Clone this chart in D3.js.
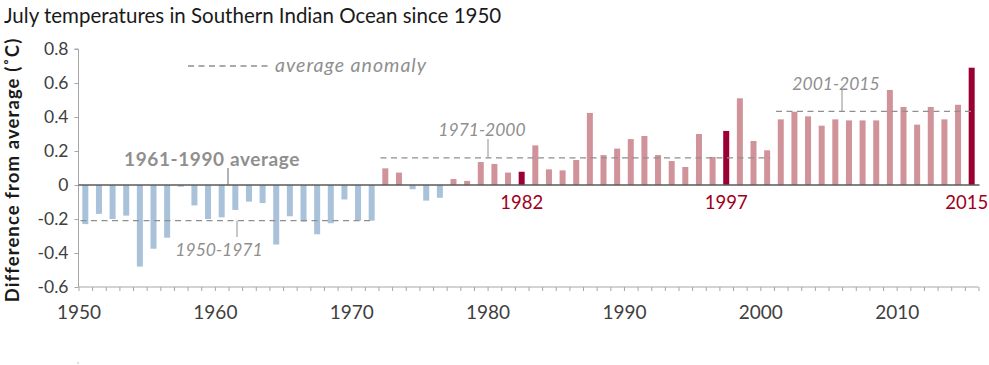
<!DOCTYPE html>
<html>
<head>
<meta charset="utf-8">
<script src="https://cdn.jsdelivr.net/npm/d3@7"></script>
<style>
  html, body { margin: 0; padding: 0; background: #fff; }
  svg { display: block; font-family: Lato, "Open Sans", sans-serif; }
</style>
</head>
<body>
<svg id="chart" width="989" height="365"></svg>
<script>
// ---- Data ----
const years = d3.range(1950, 2016);
const anomalies = [
  -0.23, -0.17, -0.20, -0.18, -0.48, -0.375, -0.31, -0.01, -0.12, -0.20,
  -0.19, -0.147, -0.098, -0.106, -0.35, -0.184, -0.215, -0.29, -0.225, -0.085,
  -0.21, -0.21, 0.098, 0.073, -0.025, -0.092, -0.075, 0.035, 0.024, 0.135,
  0.124, 0.073, 0.078, 0.233, 0.092, 0.086, 0.147, 0.424, 0.176, 0.214,
  0.27, 0.288, 0.176, 0.141, 0.106, 0.30, 0.165, 0.318, 0.51, 0.259,
  0.204, 0.386, 0.431, 0.404, 0.349, 0.386, 0.38, 0.38, 0.38, 0.559,
  0.459, 0.355, 0.459, 0.386, 0.472, 0.69
];
const highlightYears = [1982, 1997, 2015];
const yTicks = [-0.6, -0.4, -0.2, 0, 0.2, 0.4, 0.6, 0.8];
const decadeLabels = [1950, 1960, 1970, 1980, 1990, 2000, 2010];
const periodNames = ["1950-1971", "1971-2000", "2001-2015"];
const periodStart = [1950, 1972, 2001];
const periodEnd = [1972, 2001, 2016];
const periodValue = [-0.21, 0.16, 0.433];

const title = "July temperatures in Southern Indian Ocean since 1950";
const yTitle = "Difference from average (˚C)";

// ---- Layout ----
const svg = d3.select("#chart");
const mLeft = 78.5, mRight = 978.5, mTop = 49, mBottom = 287;
const x = d3.scaleLinear().domain([1950, 2016]).range([mLeft, mRight]);
const y = d3.scaleLinear().domain([-0.6, 0.8]).range([mBottom, mTop]);
const barW = 6;

const cNeg = "#a9c2da", cPos = "#d0939a", cHi = "#9b0033", cHiText = "#a0001c";
const cGray = "#8f8f8f", cAxis = "#a6a6a6";

// Title
svg.append("text").attr("x", 4).attr("y", 23)
  .attr("font-size", 20.5).attr("fill", "#1a1a1a").text(title);

// Y axis title
svg.append("text")
  .attr("transform", `translate(19,${(mTop + mBottom) / 2 + 2}) rotate(-90)`)
  .attr("text-anchor", "middle").attr("font-size", 18.5).attr("font-weight", "bold")
  .attr("letter-spacing", 1.1)
  .attr("fill", "#1a1a1a").text(yTitle);

// Y axis
const yAxis = svg.append("g").attr("transform", `translate(${mLeft},0)`)
  .call(d3.axisLeft(y).tickValues(yTicks).tickSize(4).tickPadding(6)
    .tickFormat(d => d === 0 ? "0" : d3.format(".1f")(d).replace("−", "-")));
yAxis.select(".domain").attr("stroke", cAxis).attr("d", `M-4,${mTop}H0V${mBottom}`);
yAxis.selectAll(".tick line").attr("stroke", cAxis);
yAxis.selectAll(".tick text").attr("font-size", 17.5).attr("fill", "#404040")
  .attr("font-family", "Lato, sans-serif");

// X axis (ticks at year boundaries)
const xAxis = svg.append("g").attr("transform", `translate(0,${mBottom})`)
  .call(d3.axisBottom(x).tickValues(d3.range(1950, 2017)).tickSize(4).tickFormat(""));
xAxis.select(".domain").attr("stroke", cAxis).attr("d", `M${mLeft},0H${mRight}`);
xAxis.selectAll(".tick line").attr("stroke", cAxis);

const xLab = svg.append("g").attr("transform", `translate(0,${mBottom})`)
  .call(d3.axisBottom(x).tickValues(decadeLabels).tickSize(0).tickPadding(19).tickFormat(d3.format("d")));
xLab.select(".domain").remove();
xLab.selectAll(".tick text").attr("font-size", 19).attr("fill", "#404040")
  .attr("font-family", "Lato, sans-serif");

// Bars
svg.append("g").selectAll("rect").data(years).join("rect")
  .attr("x", (d) => x(d + 0.5) - barW / 2)
  .attr("width", barW)
  .attr("y", (d, i) => y(Math.max(0, anomalies[i])))
  .attr("height", (d, i) => Math.abs(y(anomalies[i]) - y(0)))
  .attr("fill", (d, i) => highlightYears.includes(d) ? cHi : (anomalies[i] < 0 ? cNeg : cPos));

// Zero line
svg.append("line").attr("x1", mLeft).attr("x2", mRight + 1)
  .attr("y1", y(0)).attr("y2", y(0)).attr("stroke", "#5a5a5a").attr("stroke-width", 1.4);

// Period average dashed lines
const dashG = svg.append("g");
periodNames.forEach((name, i) => {
  dashG.append("line")
    .attr("x1", x(periodStart[i]) + 2).attr("x2", x(periodEnd[i]) - 4)
    .attr("y1", y(periodValue[i])).attr("y2", y(periodValue[i]))
    .attr("stroke", cGray).attr("stroke-width", 1.3).attr("stroke-dasharray", "6,4.5");
});

// Annotation leaders and labels
const ann = svg.append("g").attr("fill", cGray).attr("font-size", 17.5).attr("font-style", "italic");
ann.append("line").attr("x1", 237).attr("x2", 237).attr("y1", y(periodValue[0])).attr("y2", 237)
  .attr("stroke", cGray).attr("stroke-width", 1);
ann.append("text").attr("x", 219).attr("y", 256).attr("text-anchor", "middle").text(periodNames[0]);
ann.append("line").attr("x1", 488).attr("x2", 488).attr("y1", y(periodValue[1])).attr("y2", 139)
  .attr("stroke", cGray).attr("stroke-width", 1);
ann.append("text").attr("x", 482).attr("y", 136).attr("text-anchor", "middle").text(periodNames[1]);
ann.append("line").attr("x1", 842).attr("x2", 842).attr("y1", y(periodValue[2])).attr("y2", 90)
  .attr("stroke", cGray).attr("stroke-width", 1);
ann.append("text").attr("x", 836).attr("y", 90).attr("text-anchor", "middle").text(periodNames[2]);

// 1961-1990 average label
svg.append("line").attr("x1", 228).attr("x2", 228).attr("y1", 168).attr("y2", y(0))
  .attr("stroke", "#666").attr("stroke-width", 1);
svg.append("text").attr("x", 212).attr("y", 166).attr("text-anchor", "middle")
  .attr("font-size", 19).attr("font-weight", "bold").attr("letter-spacing", 0.6)
  .attr("fill", cGray).text("1961-1990 average");

// Legend
svg.append("line").attr("x1", 188).attr("x2", 271).attr("y1", 66).attr("y2", 66)
  .attr("stroke", cGray).attr("stroke-width", 1.3).attr("stroke-dasharray", "6,4.5");
svg.append("text").attr("x", 275).attr("y", 72).attr("font-size", 19.5).attr("font-style", "italic")
  .attr("letter-spacing", 1.0)
  .attr("fill", cGray).text("average anomaly");

// Highlight year labels
svg.append("g").selectAll("text").data(highlightYears).join("text")
  .attr("x", d => d === 2015 ? x(d + 0.5) - 5 : x(d + 0.5))
  .attr("y", 209).attr("text-anchor", "middle")
  .attr("font-size", 18.5).attr("fill", cHiText).text(d => d);

// small mark bottom-left
svg.append("line").attr("x1", 77).attr("x2", 79).attr("y1", 363).attr("y2", 363)
  .attr("stroke", "#bbb").attr("stroke-width", 1);
</script>
</body>
</html>
